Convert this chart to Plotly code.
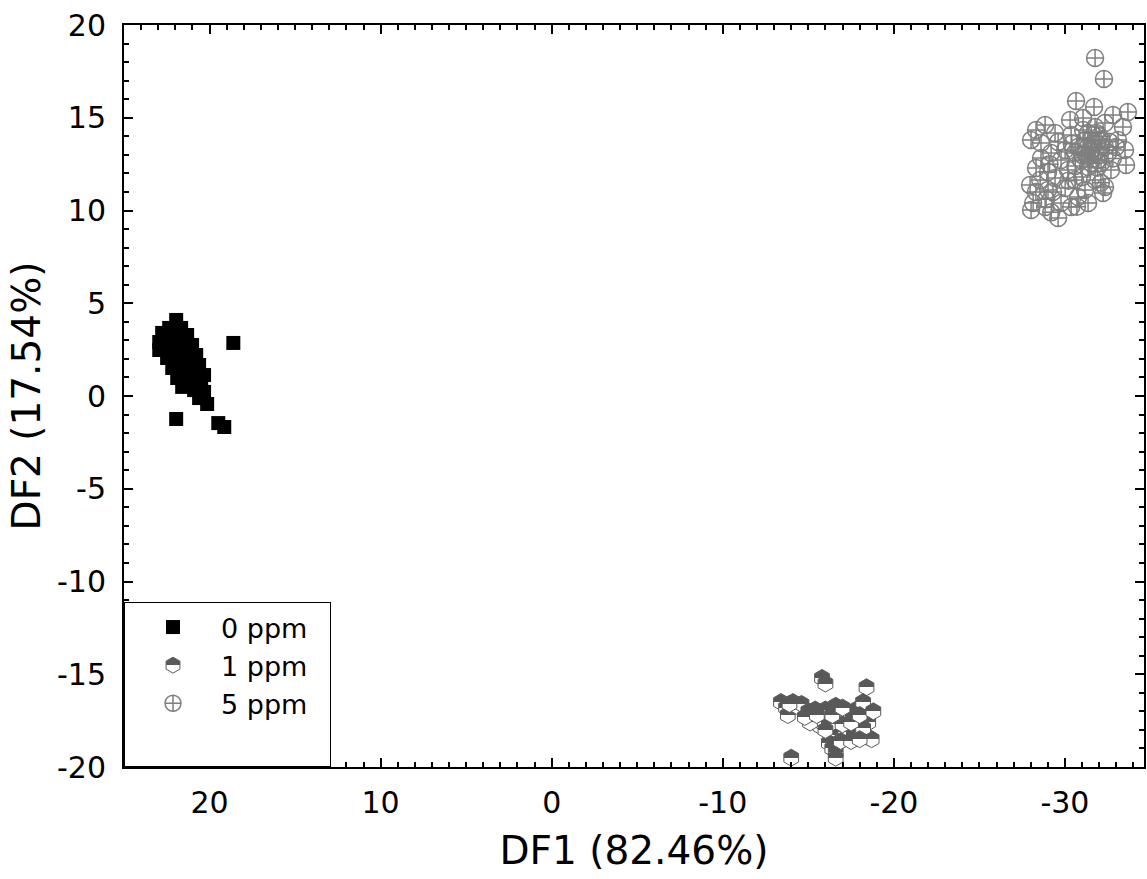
import plotly.graph_objects as go

# ---------------- data ----------------
ppm0_x = [21.95, 22.36, 21.66, 22.77, 22.07, 21.31, 22.94, 22.36, 21.66, 21.02,
          22.94, 22.07, 21.37, 20.78, 22.48, 21.77, 21.07, 20.61, 22.18, 21.48,
          20.78, 20.32, 21.89, 21.19, 20.49, 21.60, 20.90, 20.32, 20.61, 20.14,
          18.61, 21.95, 19.49, 19.14, 22.65, 21.48, 21.89, 21.19, 20.61, 22.80,
          21.70, 21.30]
ppm0_y = [4.10, 3.67, 3.67, 3.40, 3.29, 3.29, 2.91, 2.91, 2.91, 2.75,
          2.48, 2.48, 2.37, 2.21, 2.05, 1.94, 1.83, 1.67, 1.51, 1.40,
          1.29, 1.13, 0.97, 0.86, 0.70, 0.49, 0.32, 0.22, -0.11, -0.43,
          2.86, -1.24, -1.46, -1.67, 3.13, 2.75, 1.67, 1.29, 0.86, 2.70,
          1.20, 0.60]

ppm1_x = [-15.8, -16.0, -18.4, -13.4, -14.1, -13.7, -13.8, -15.4, -15.4, -15.7,
          -16.6, -16.8, -17.3, -17.8, -18.2, -17.6, -18.5, -18.5, -18.7, -17.7,
          -17.3, -16.8, -16.3, -16.2, -16.4, -16.6, -16.6, -15.8, -16.2, -15.1,
          -14.0, -17.0, -18.2, -14.3, -14.6, -15.0, -16.0, -16.4, -17.0, -17.5,
          -18.0, -18.8, -16.9, -17.5, -14.8, -13.9, -18.0, -16.0, -15.5]
ppm1_y = [-15.2, -15.5, -15.7, -16.5, -16.5, -16.8, -17.2, -16.9, -17.6, -17.8,
          -16.7, -16.9, -17.0, -16.9, -16.5, -17.3, -17.6, -18.4, -18.5, -18.1,
          -18.3, -18.1, -18.3, -18.7, -19.0, -19.2, -19.5, -17.6, -17.7, -17.6,
          -19.5, -17.7, -17.9, -16.7, -16.6, -17.0, -16.9, -17.2, -16.8, -17.6,
          -17.2, -17.0, -18.6, -18.6, -17.3, -16.6, -18.5, -18.0, -17.2]

ppm5_x = [-31.76, -32.28, -30.65, -31.70, -30.30, -31.06, -32.81, -33.68, -33.39, -32.34,
          -28.84, -28.31, -29.42, -28.02, -28.60, -29.60, -30.36, -31.06, -31.76, -33.10,
          -33.51, -33.57, -32.98, -28.60, -29.19, -30.01, -30.59, -31.35, -32.11, -31.76,
          -32.52, -30.94, -29.77, -28.31, -29.01, -30.18, -31.35, -32.11, -32.69, -27.96,
          -28.55, -29.42, -30.59, -31.76, -32.34, -29.01, -30.01, -31.17, -28.14, -28.02,
          -28.84, -29.77, -29.60, -30.36, -31.35, -30.77, -32.23, -31.94, -31.17, -31.52,
          -31.94, -31.17, -31.52, -31.94, -30.77, -32.34, -31.35, -31.82, -31.52, -31.00,
          -31.60, -32.00, -31.30, -32.60, -30.60, -31.90, -30.20, -31.00, -29.30, -28.90,
          -30.70, -29.20, -32.80, -30.40, -29.10, -28.30, -32.10]
ppm5_y = [18.22, 17.09, 15.90, 15.58, 14.88, 14.99, 15.15, 15.31, 14.50, 14.72,
          14.61, 14.34, 14.18, 13.80, 13.64, 13.69, 14.07, 14.34, 14.50, 13.80,
          13.26, 12.45, 13.42, 12.83, 13.10, 13.26, 13.10, 13.42, 13.80, 13.10,
          13.10, 12.72, 12.72, 12.29, 12.08, 12.18, 12.35, 12.56, 12.18, 11.37,
          11.64, 11.75, 11.64, 11.64, 11.27, 11.11, 11.21, 11.11, 10.40, 10.03,
          10.19, 10.40, 9.60, 10.19, 10.40, 10.73, 10.94, 13.80, 13.80, 13.26,
          13.26, 13.10, 12.56, 12.72, 13.42, 13.42, 14.18, 14.18, 13.80, 13.00,
          13.60, 14.00, 12.90, 13.70, 12.40, 12.30, 11.60, 11.80, 11.00, 10.60,
          10.20, 9.90, 12.80, 13.60, 12.50, 11.00, 11.50]

series_names = ["0 ppm", "1 ppm", "5 ppm"]

x_tickvals = [20, 10, 0, -10, -20, -30]
x_ticktext = ["20", "10", "0", "-10", "-20", "-30"]
y_tickvals = [20, 15, 10, 5, 0, -5, -10, -15, -20]
y_ticktext = ["20", "15", "10", "5", "0", "-5", "-10", "-15", "-20"]

x_title = "DF1 (82.46%)"
y_title = "DF2 (17.54%)"

# ---------------- figure ----------------
FONT = "DejaVu Sans"
PAD = "\u00a0\u00a0"  # invisible padding so the legend frame is as wide as the original
fig = go.Figure()

fig.add_trace(go.Scatter(
    x=ppm5_x, y=ppm5_y, mode="markers", name=series_names[2] + PAD, legendrank=3,
    marker=dict(symbol="circle-cross-open", size=17, color="#7f7f7f",
                line=dict(width=1.5, color="#7f7f7f")),
))
fig.add_trace(go.Scatter(
    x=ppm1_x, y=ppm1_y, mode="markers", name=series_names[1] + PAD, legendrank=2,
    marker=dict(symbol="hexagon", size=17, color="#585858",
                gradient=dict(type="vertical", color="#ffffff"),
                line=dict(width=1, color="#5a5a5a")),
))
fig.add_trace(go.Scatter(
    x=ppm0_x, y=ppm0_y, mode="markers", name=series_names[0] + PAD, legendrank=1,
    marker=dict(symbol="square", size=14, color="#000000",
                line=dict(width=0)),
))
# empty legend row (spacing only, no marks)
fig.add_trace(go.Scatter(
    x=[None], y=[None], mode="markers", name=" ", legendrank=4,
    marker=dict(color="rgba(0,0,0,0)", size=1), hoverinfo="skip",
))

axis_common = dict(
    showline=True, linewidth=2, linecolor="black", mirror="allticks",
    ticks="inside", ticklen=9, tickwidth=2, tickcolor="black",
    showgrid=False, zeroline=False,
    tickfont=dict(family=FONT, size=30, color="black"),
    minor=dict(dtick=1, tick0=0, ticks="inside", ticklen=5, tickwidth=1.5,
               tickcolor="black", showgrid=False),
)

fig.update_layout(
    width=1147, height=879,
    margin=dict(l=124, r=1, t=25, b=112),
    paper_bgcolor="white", plot_bgcolor="white",
    font=dict(family=FONT, color="black"),
    xaxis=dict(range=[25, -34.62], tickmode="array", tickvals=x_tickvals,
               ticktext=x_ticktext, ticklabelstandoff=8,
               title=dict(text=x_title, font=dict(family=FONT, size=39), standoff=18),
               **axis_common),
    yaxis=dict(range=[-20, 20], tickmode="array", tickvals=y_tickvals,
               ticktext=y_ticktext, ticklabelstandoff=10,
               title=dict(text=y_title, font=dict(family=FONT, size=39), standoff=4),
               **axis_common),
    legend=dict(x=0, y=0, xanchor="left", yanchor="bottom",
                bgcolor="white", bordercolor="black", borderwidth=1,
                font=dict(family=FONT, size=27, color="black"),
                itemwidth=86, traceorder="normal"),
    showlegend=True,
)

post = """
document.body.style.margin='0';
var gd = document.getElementById('{plot_id}');
function halfFill(){
  document.querySelectorAll('linearGradient').forEach(function(g){
    if (g.getAttribute('data-half')) return;
    var s = g.querySelectorAll('stop');
    if (s.length !== 2) return;
    var a = s[0].cloneNode(), b = s[1].cloneNode();
    a.setAttribute('offset', '0.5'); b.setAttribute('offset', '0.5');
    g.insertBefore(a, s[1]); g.insertBefore(b, s[1]);
    g.setAttribute('data-half', '1');
  });
}
halfFill();
setTimeout(halfFill, 50);
if (gd && gd.on) gd.on('plotly_afterplot', halfFill);
"""

fig.write_html("out.html", post_script=post, config={"displayModeBar": False})
